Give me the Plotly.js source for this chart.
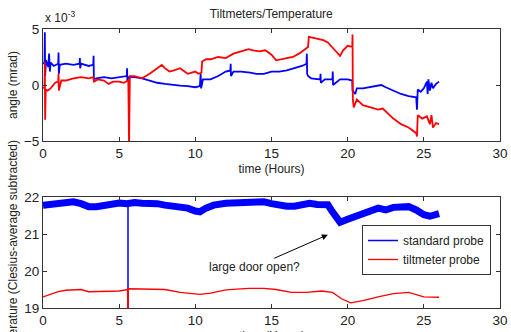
<!DOCTYPE html>
<html>
<head>
<meta charset="utf-8">
<script src="https://cdn.plot.ly/plotly-3.0.1.min.js"></script>
<style>html,body{margin:0;padding:0;background:#fff;}#chart{width:511px;height:332px;}</style>
</head>
<body>
<div id="chart"></div>
<script>
// Top panel: tilt angle (units of 1e-3 mrad) vs time (hours)
var tiltStdT = [0.0,0.1,0.12,0.14,0.2,0.35,0.4,0.45,0.5,0.7,1.0,1.02,1.04,1.1,1.5,2.0,2.4,2.42,2.44,2.5,3.0,3.3,3.32,3.34,3.5,4.0,4.5,5.0,5.5,5.52,5.54,5.6,6.0,6.5,7.0,7.5,8.0,8.5,9.0,9.5,10.0,10.3,10.35,10.38,10.5,11.0,11.5,12.0,12.3,12.32,12.34,12.5,13.0,13.6,14.0,14.5,15.0,15.5,16.0,16.5,17.0,17.3,17.32,17.34,17.4,17.6,18.0,18.2,18.22,18.24,18.5,19.0,19.02,19.04,19.5,20.0,20.3,20.32,20.5,20.6,21.0,21.5,22.0,22.2,22.5,23.0,23.5,24.0,24.5,24.55,24.6,24.8,25.0,25.2,25.25,25.3,25.4,25.5,25.6,25.8,26.0];
var tiltStdV = [1.9,2.0,4.7,0.8,2.2,1.6,2.8,1.2,2.0,1.7,1.9,2.9,1.0,1.8,1.9,1.8,1.9,2.4,1.5,1.9,1.7,1.8,2.6,0.5,0.6,0.7,0.6,0.7,0.8,1.5,0.3,0.7,0.7,0.6,0.4,0.2,0.1,0.0,-0.05,-0.1,-0.2,-0.1,1.0,-0.3,0.5,0.5,0.8,1.2,1.3,1.9,0.8,1.2,1.2,1.1,1.0,1.0,1.2,1.2,1.3,1.5,1.7,1.9,2.8,1.0,0.8,0.6,0.5,0.5,1.0,0.2,0.5,0.5,1.2,0.0,0.5,0.5,0.4,-0.5,-0.8,-0.3,-0.3,-0.2,-0.1,0.0,-0.2,-0.5,-0.8,-1.0,-1.1,-2.2,-0.4,-0.6,-0.3,0.3,-0.8,0.5,-0.5,0.2,-0.3,0.1,0.3];
var tiltTmT = [0.0,0.1,0.12,0.14,0.18,0.3,0.5,0.8,1.0,1.02,1.04,1.2,1.5,2.0,2.5,3.0,3.3,3.35,3.6,4.0,4.3,4.6,5.0,5.3,5.6,5.65,5.7,6.0,6.5,7.0,7.5,7.8,8.0,8.3,8.6,9.0,9.5,10.0,10.2,10.4,10.45,10.7,11.0,11.5,12.0,12.5,13.0,13.5,13.8,14.2,14.6,15.0,15.3,15.7,16.0,16.4,16.8,17.2,17.4,17.45,17.8,18.0,18.4,18.7,19.0,19.3,19.5,19.7,20.0,20.3,20.32,20.34,20.4,20.6,21.0,21.5,22.0,22.3,22.6,23.0,23.5,24.0,24.5,24.55,24.6,24.9,25.2,25.4,25.5,25.6,25.8,26.0];
var tiltTmV = [-0.3,-0.2,2.0,-3.1,-0.4,-0.5,-0.3,0.2,0.3,1.0,-0.5,0.4,0.4,0.6,0.7,0.6,0.7,0.3,0.5,0.4,0.1,0.3,0.3,0.2,0.4,-5.5,0.8,0.8,0.6,1.0,1.5,1.8,1.5,1.2,1.3,1.5,1.0,1.2,1.0,1.1,2.1,2.3,2.3,2.5,2.4,2.8,3.0,3.2,3.1,3.0,3.1,2.7,2.2,2.3,2.4,2.5,2.8,3.2,3.4,4.3,4.2,4.1,4.0,3.8,3.3,2.9,2.6,3.1,3.5,3.4,4.5,-1.3,-2.0,-1.3,-1.8,-2.0,-2.2,-2.1,-2.5,-3.0,-3.5,-3.8,-4.3,-4.6,-2.7,-3.0,-2.8,-3.5,-2.7,-3.8,-3.4,-3.5];

// Bottom panel: temperature (deg C) vs time (hours)
var tempT = [0,0.5,1.0,1.5,2.0,2.5,3.0,3.5,4.0,4.5,5.0,5.5,6.0,6.5,7.0,7.5,8.0,8.5,9.0,9.5,10.0,10.3,10.7,11.2,12.0,13.0,14.0,14.5,15.0,15.5,16.0,16.5,17.0,17.5,18.0,18.7,19.0,19.5,20.0,20.5,21.0,21.5,22.0,22.5,23.0,23.5,24.0,24.5,25.0,25.4,25.7,26.0];
var tempStd = [21.78,21.8,21.85,21.88,21.87,21.82,21.74,21.74,21.78,21.8,21.84,21.82,21.85,21.83,21.84,21.82,21.78,21.75,21.73,21.7,21.62,21.6,21.7,21.78,21.83,21.85,21.85,21.87,21.82,21.78,21.75,21.75,21.8,21.83,21.8,21.79,21.6,21.32,21.4,21.47,21.55,21.6,21.7,21.65,21.72,21.73,21.74,21.65,21.52,21.48,21.52,21.55];
var tempTmT = [0,0.5,1.0,1.5,2.0,2.5,3.0,4.0,5.0,5.55,5.58,5.6,6.0,7.0,8.0,9.0,10.3,11.0,12.0,13.5,14.5,15.3,16.3,17.3,18.3,19.0,19.6,20.2,21.0,22.0,23.0,24.0,25.0,26.0];
var tempTm = [19.3,19.38,19.44,19.48,19.5,19.5,19.44,19.44,19.46,19.5,18.0,19.52,19.52,19.52,19.5,19.42,19.37,19.4,19.49,19.53,19.53,19.5,19.42,19.42,19.46,19.42,19.25,19.14,19.2,19.3,19.39,19.42,19.3,19.29];
var glitchT = [5.58,5.58];
var glitchStd = [21.82,19.0];

var legendNames = ['standard probe','tiltmeter probe'];
var xTicks = [0,5,10,15,20,25,30];
var xTitle = 'time (Hours)';

var BLUE = '#0000ff', RED = '#ff0000';
var traces = [
  {x: tiltStdT, y: tiltStdV, xaxis:'x', yaxis:'y', mode:'lines', line:{color:BLUE,width:1.8}, showlegend:false},
  {x: tiltTmT, y: tiltTmV, xaxis:'x', yaxis:'y', mode:'lines', line:{color:RED,width:1.8}, showlegend:false},
  {x: tempT, y: tempStd, xaxis:'x2', yaxis:'y2', mode:'lines', name:legendNames[0], line:{color:BLUE,width:7}, showlegend:false},
  {x: glitchT, y: glitchStd, xaxis:'x2', yaxis:'y2', mode:'lines', name:legendNames[0], line:{color:BLUE,width:1.5}, showlegend:true},
  {x: tempTmT, y: tempTm, xaxis:'x2', yaxis:'y2', mode:'lines', name:legendNames[1], line:{color:RED,width:1.3}, showlegend:true}
];

var FONT = 'Liberation Sans, Arial, sans-serif';
function xax(anchor, withTitle){
  var a = {range:[0,30], tickvals:xTicks, ticks:'inside', ticklen:4, tickcolor:'#333', showline:true, linecolor:'#333', linewidth:1,
    mirror:'ticks', showgrid:false, zeroline:false, anchor:anchor, domain:[0,1], automargin:false,
    tickfont:{family:FONT,size:13.5,color:'#222'}};
  if (withTitle) a.title = {text:xTitle, font:{family:FONT,size:12,color:'#222'}, standoff:4};
  return a;
}
var layout = {
  width:511, height:332,
  margin:{l:43, r:11, t:29, b:24},
  paper_bgcolor:'#fff', plot_bgcolor:'#fff',
  font:{family:FONT, color:'#222'},
  title:{text:'Tiltmeters/Temperature', font:{family:FONT,size:12,color:'#222'}, x:0.531, xanchor:'center', y:1-14/332, yanchor:'middle'},
  xaxis: xax('y', true),
  xaxis2: xax('y2', false),
  yaxis:{domain:[0.5986,1], range:[-5,5], tickvals:[-5,0,5], ticks:'inside', ticklen:4, tickcolor:'#333', showline:true, linecolor:'#333',
    mirror:'ticks', showgrid:false, zeroline:false, anchor:'x', automargin:false,
    tickfont:{family:FONT,size:13.5,color:'#222'},
    title:{text:'angle (mrad)', font:{family:FONT,size:12,color:'#222'}, standoff:3}},
  yaxis2:{domain:[0,0.3978], range:[19,22], tickvals:[19,20,21,22], ticks:'inside', ticklen:4, tickcolor:'#333', showline:true, linecolor:'#333',
    mirror:'ticks', showgrid:false, zeroline:false, anchor:'x2', automargin:false,
    tickfont:{family:FONT,size:13.5,color:'#222'},
    title:{text:'Temperature (Clesius-average subtracted)', font:{family:FONT,size:12,color:'#222'}, standoff:4}},
  legend:{x:0.698, y:0.2975, xanchor:'left', yanchor:'top', xref:'paper', yref:'paper', bgcolor:'#fff', bordercolor:'#333', borderwidth:1,
    font:{family:FONT,size:12,color:'#222'}, tracegroupgap:0, itemwidth:30},
  annotations:[
    {text:'x 10<sup>-3</sup>', xref:'paper', yref:'paper', x:0, y:1.0, xanchor:'left', yanchor:'bottom', showarrow:false, font:{family:FONT,size:12,color:'#222'}, yshift:2},
    {text:'large door open?', xref:'x2', yref:'y2', x:18.7, y:20.98, ax:-73, ay:32, showarrow:true, arrowhead:2, arrowsize:1.2, arrowwidth:1, arrowcolor:'#000', font:{family:FONT,size:12,color:'#222'}},
    {text:xTitle, xref:'paper', yref:'paper', x:0.5, y:-0.068, xanchor:'center', yanchor:'top', showarrow:false, font:{family:FONT,size:12,color:'#222'}}
  ]
};
Plotly.newPlot('chart', traces, layout, {displayModeBar:false, staticPlot:true});
</script>
</body>
</html>
